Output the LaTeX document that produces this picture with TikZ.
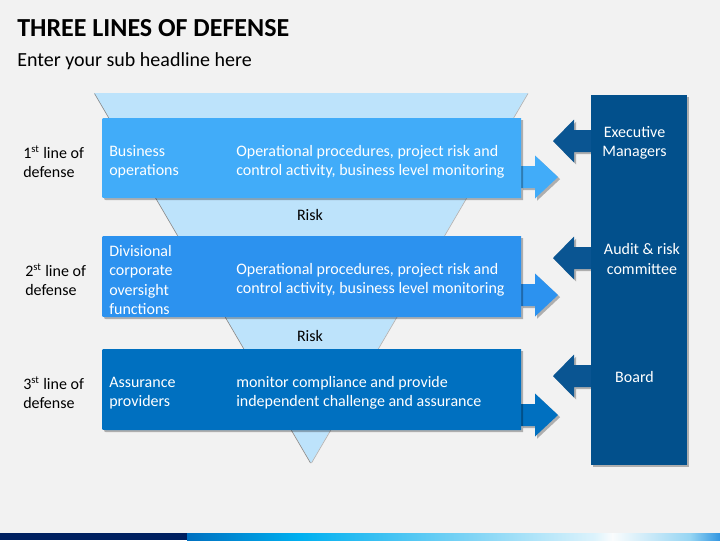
\documentclass[tikz,border=0pt]{standalone}
\usepackage{fontspec}
\setmainfont{Carlito}
\usetikzlibrary{shadows}
\definecolor{bgc}{HTML}{F2F2F2}
\definecolor{funnelc}{HTML}{BDE3FB}
\definecolor{boxa}{HTML}{41ACF9}
\definecolor{boxb}{HTML}{2C92EF}
\definecolor{boxc}{HTML}{0070C0}
\definecolor{colc}{HTML}{02508C}
\definecolor{larrc}{HTML}{0A5592}
\definecolor{navy}{HTML}{002060}
\definecolor{barb}{HTML}{00B0F0}
\definecolor{barc}{HTML}{7FD4F5}
\definecolor{bard}{HTML}{DDF3FC}
\definecolor{bare}{HTML}{FAFCFD}
\definecolor{barf}{HTML}{96D5F3}
\definecolor{barg}{HTML}{3296E1}
\tikzset{
  boxshadow/.style={drop shadow={shadow xshift=1.6pt,shadow yshift=-1.6pt,opacity=0.28,fill=black}},
  boxtxt/.style={anchor=west,inner sep=0pt,align=left,text=white,font=\fontsize{12}{14.3}\selectfont},
  sidetxt/.style={anchor=west,inner sep=0pt,align=left,text=black,font=\fontsize{12}{14.3}\selectfont},
  coltxt/.style={inner sep=0pt,align=center,text=white,font=\fontsize{12}{14.3}\selectfont},
  risktxt/.style={inner sep=0pt,text=black,font=\fontsize{12}{14.3}\selectfont},
}
\newcommand{\outArrow}[2]{% #1 colour, #2 centre y
  \fill[#1,boxshadow] (521,#2-11) -- (535,#2-11) -- (535,#2-21.5) -- (558,#2) -- (535,#2+21.5) -- (535,#2+11) -- (521,#2+11) -- cycle;}
\newcommand{\inArrow}[1]{% #1 centre y
  \fill[larrc,boxshadow] (592,#1-11) -- (574,#1-11) -- (574,#1-21.5) -- (553,#1) -- (574,#1+21.5) -- (574,#1+11) -- (592,#1+11) -- cycle;}
\newcommand{\layerBox}[3]{% #1 colour, #2 top, #3 bottom
  \fill[#1,boxshadow] (521,#2) -- (521,#3) -- (106,#3) .. controls (102,#3) .. (102,#3-4) -- (102,#2+4) .. controls (102,#2) .. (106,#2) -- cycle;}
\begin{document}
\begin{tikzpicture}[x=0.75pt,y=-0.75pt]
\fill[bgc] (0,0) rectangle (720,540);
\useasboundingbox (0,0) rectangle (720,540);

% title
\node[anchor=west,inner sep=0pt,font=\bfseries\fontsize{19.5}{22}\selectfont] (title) at (17,28) {THREE LINES OF DEFENSE};
\node[anchor=west,inner sep=0pt,font=\fontsize{15}{18}\selectfont] (subtitle) at (17,61) {Enter your sub headline here};

% funnel
\fill[funnelc] (94,93) -- (528,93) -- (311,463) -- cycle;
\draw[black!45,line width=0.5pt] (94.5,93.5) -- (310.5,463);
\draw[black!30,line width=0.5pt] (528,93.5) -- (311.5,463);
\fill[funnelc] (95.2,93) -- (527.3,93) -- (311,461.8) -- cycle;

% right arrows (out of boxes)
\outArrow{boxa}{177}
\outArrow{boxb}{295}
\outArrow{boxc}{415}

% boxes
\layerBox{boxa}{118}{198}
\layerBox{boxb}{236}{317}
\layerBox{boxc}{349}{430}
\coordinate (box1) at (311,158);
\coordinate (box2) at (311,276.5);
\coordinate (box3) at (311,389.5);

% left arrows (into boxes from column)
\inArrow{141}
\inArrow{258}
\inArrow{376}

% column
\fill[colc,boxshadow] (591,95) rectangle (687,465);
\coordinate (col) at (639,280);

% risk labels
\node[risktxt] (risk1) at (310,215) {Risk};
\node[risktxt] (risk2) at (310,336) {Risk};

% left labels
\node[sidetxt] (lab1) at (23,162) {1\textsuperscript{st} line of\\defense};
\node[sidetxt] (lab2) at (25,280) {2\textsuperscript{st} line of\\defense};
\node[sidetxt] (lab3) at (23,393) {3\textsuperscript{st} line of\\defense};

% box texts
\node[boxtxt] (b1a) at (109,162) {Business\\operations};
\node[boxtxt] (b1b) at (236,162) {Operational procedures, project risk and\\control activity, business level monitoring};
\node[boxtxt] (b2a) at (109,280) {Divisional\\corporate\\oversight\\functions};
\node[boxtxt] (b2b) at (236,280) {Operational procedures, project risk and\\control activity, business level monitoring};
\node[boxtxt] (b3a) at (109,393) {Assurance\\providers};
\node[boxtxt] (b3b) at (236,393) {monitor compliance and provide\\independent challenge and assurance};

% column texts
\node[coltxt] (c1) at (634.5,143) {Executive\\Managers};
\node[coltxt] (c2) at (642,259) {Audit \& risk\\committee};
\node[coltxt] (c3) at (634.5,377) {Board};

% bottom bar
\fill[navy] (0,533) rectangle (187,540);
\shade[left color=boxc,right color=barb] (187,533) rectangle (300.5,540);
\shade[left color=barb,right color=barc] (300,533) rectangle (470.5,540);
\shade[left color=barc,right color=bard] (470,533) rectangle (595.5,540);
\shade[left color=bard,right color=bare] (595,533) rectangle (612.5,540);
\shade[left color=bare,right color=barf] (612,533) rectangle (690.5,540);
\shade[left color=barf,right color=barg] (690,533) rectangle (720,540);
\end{tikzpicture}
\end{document}
